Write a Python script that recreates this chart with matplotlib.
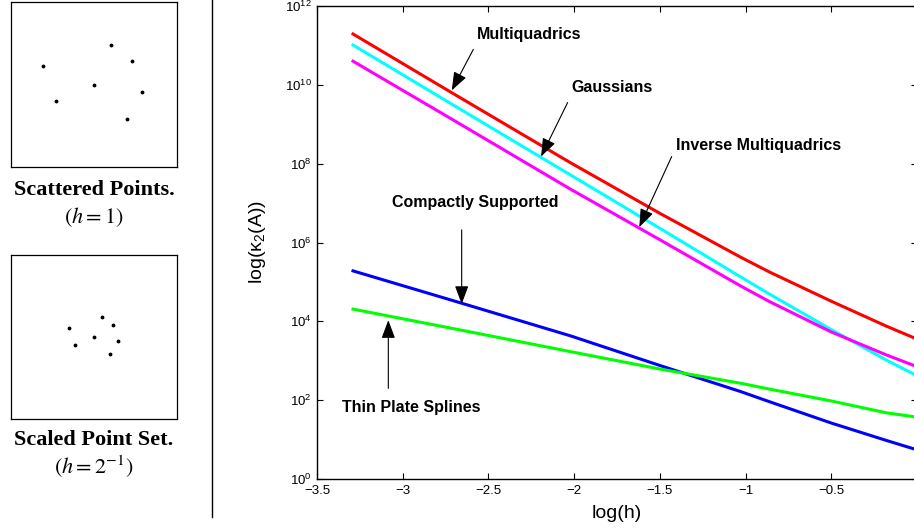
"""Condition number of RBF interpolation matrices vs. point-set scale h."""

import numpy as np
import matplotlib.pyplot as plt
from matplotlib.ticker import FixedLocator, FuncFormatter, NullLocator

plt.rcParams["font.family"] = ["Liberation Sans", "DejaVu Sans"]
plt.rcParams["mathtext.fontset"] = "custom"
plt.rcParams["mathtext.rm"] = "Liberation Sans"
plt.rcParams["mathtext.it"] = "Liberation Sans:italic"
plt.rcParams["mathtext.bf"] = "Liberation Sans:bold"

# ------------------------------
# Data
# ------------------------------

# scattered point set in unit box coordinates
pts_x = [-0.614, -0.458, -0.004, 0.201, 0.458, 0.578, 0.394]
pts_y = [0.227, -0.195, -0.002, 0.484, 0.287, -0.090, -0.419]
scales = [1.0, 2.0 ** -1]
panel_titles = ["Scattered Points.", "Scaled Point Set."]
panel_subs = [r"$(h = 1)$", r"$(h = 2^{-1})$"]

log_h = [-3.29, -2.71, -2.02, -1.50, -1.03, -0.86, -0.50, -0.18, 0.0]
# log10 of kappa_2(A)
mq = [11.29, 9.79, 8.02, 6.74, 5.63, 5.25, 4.51, 3.88, 3.55]
gauss = [11.01, 9.50, 7.71, 6.36, 5.13, 4.69, 3.79, 3.02, 2.62]
imq = [10.60, 9.12, 7.35, 6.07, 4.90, 4.50, 3.73, 3.15, 2.85]
csrbf = [5.28, 4.53, 3.63, 2.88, 2.22, 1.96, 1.42, 0.98, 0.74]
tps = [4.31, 3.82, 3.23, 2.79, 2.43, 2.28, 1.98, 1.68, 1.57]

series = [mq, gauss, imq, csrbf, tps]
colors = ["#ff0000", "#00ffff", "#ff00ff", "#0000ff", "#00ff00"]

# label text pos, arrow tail, arrow tip  (log h, log10 kappa)
labels = ["Multiquadrics", "Gaussians", "Inverse Multiquadrics",
          "Compactly Supported", "Thin Plate Splines"]
label_pos = [(-2.265, 11.27), (-1.782, 9.92), (-0.925, 8.47),
             (-2.574, 7.01), (-2.953, 1.82)]
arrow_from = [(-2.588, 10.90), (-2.038, 9.55), (-1.431, 8.18),
              (-2.656, 6.32), (-3.084, 2.30)]
arrow_to = [(-2.714, 9.86), (-2.193, 8.18), (-1.620, 6.39),
            (-2.656, 4.44), (-3.084, 4.03)]

x_ticks = [-3.5, -3, -2.5, -2, -1.5, -1, -0.5, 0]
y_ticks = [1e0, 1e2, 1e4, 1e6, 1e8, 1e10, 1e12]

# ------------------------------
# Figure
# ------------------------------

W, H = 914, 529
fig = plt.figure(figsize=(W / 100, H / 100), dpi=100)

# left: point-set panels
boxes = [(11, 2, 177, 167), (11, 255, 177, 419)]
title_y = [190, 440]
sub_y = [217, 467]
for (x0, y0, x1, y1), s, t, sub, ty, sy in zip(boxes, scales, panel_titles,
                                              panel_subs, title_y, sub_y):
    bax = fig.add_axes([x0 / W, 1 - y1 / H, (x1 - x0) / W, (y1 - y0) / H])
    bax.plot(np.array(pts_x) * s, np.array(pts_y) * s, "k.", markersize=3.5)
    bax.set_xlim(-1, 1)
    bax.set_ylim(-1, 1)
    bax.set_xticks([])
    bax.set_yticks([])
    for sp in bax.spines.values():
        sp.set_linewidth(0.9)
    cx = (x0 + x1) / 2 / W
    fig.text(cx, 1 - ty / H, t, ha="center", va="center", fontsize=16,
             fontweight="bold", family="Liberation Serif")
    fig.text(cx, 1 - sy / H, sub, ha="center", va="center", fontsize=16,
             family="Liberation Serif", math_fontfamily="stix")

# separator
fig.add_artist(plt.Line2D([211.7 / W, 211.7 / W], [1.0, 1 - 517 / H],
                          color="k", lw=1.0))

# right: condition numbers
ax = fig.add_axes([317 / W, 1 - 479 / H, 600 / W, 473 / H])
for ys, c in zip(series, colors):
    ax.plot(log_h, 10.0 ** np.array(ys), color=c, lw=2.2)

ax.set_yscale("log")
ax.set_xlim(-3.5, 0)
ax.set_ylim(1e0, 1e12)
ax.xaxis.set_major_locator(FixedLocator(x_ticks))
ax.xaxis.set_major_formatter(FuncFormatter(lambda v, p: f"{v:g}".replace("-", "\u2212")))
ax.yaxis.set_major_locator(FixedLocator(y_ticks))
ax.yaxis.set_minor_locator(NullLocator())
ax.tick_params(which="both", direction="in", top=True, right=True,
               length=4.5, width=0.8, labelsize=9.5, pad=4)
for sp in ax.spines.values():
    sp.set_linewidth(1.0)

ax.set_xlabel("log(h)", fontsize=14)
ax.set_ylabel("log(κ$_2$(A))", fontsize=14)
ax.xaxis.set_label_coords(0.5, -0.055)
ax.yaxis.set_label_coords(-0.082, 0.5)

for lab, (tx, ty), (fx, fy), (hx, hy) in zip(labels, label_pos, arrow_from, arrow_to):
    ax.text(tx, 10.0 ** ty, lab, ha="center", va="center", fontsize=11.5,
            fontweight="bold")
    ax.annotate("", xy=(hx, 10.0 ** hy), xytext=(fx, 10.0 ** fy),
                arrowprops=dict(arrowstyle="-|>,head_length=0.8,head_width=0.3",
                                color="k", lw=0.8, shrinkA=0, shrinkB=0,
                                mutation_scale=14))

plt.savefig("out.png", dpi=100)
